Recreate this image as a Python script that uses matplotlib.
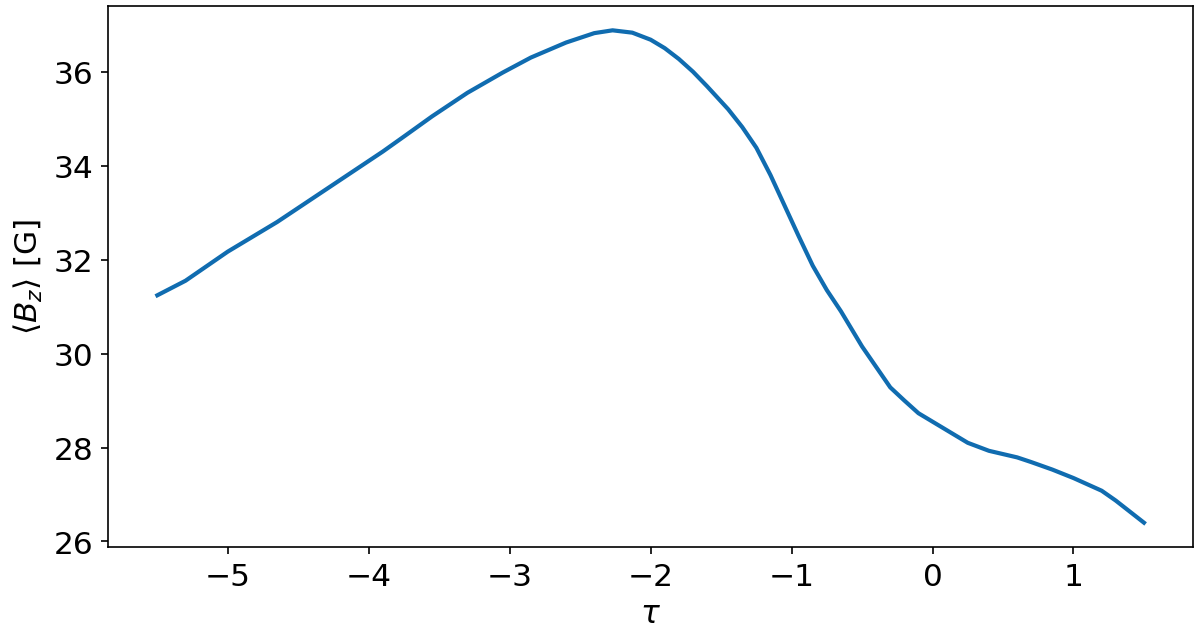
import matplotlib
matplotlib.use("Agg")
import matplotlib.pyplot as plt

# curve
tau = [-5.5, -5.3, -5.0, -4.65, -4.35, -4.2, -4.05, -3.9, -3.75, -3.55, -3.3, -3.05,
       -2.85, -2.6, -2.4, -2.27, -2.13, -2.0, -1.9, -1.8, -1.7, -1.6, -1.45, -1.35,
       -1.25, -1.15, -1.05, -0.95, -0.85, -0.75, -0.65, -0.5, -0.3, -0.2, -0.1, 0.0,
       0.25, 0.4, 0.6, 0.7, 0.85, 1.0, 1.2, 1.3, 1.5]
bz = [31.24, 31.55, 32.17, 32.80, 33.40, 33.70, 34.00, 34.30, 34.62, 35.05, 35.55, 35.98,
      36.30, 36.62, 36.82, 36.88, 36.83, 36.68, 36.50, 36.27, 36.00, 35.69, 35.20, 34.82,
      34.38, 33.80, 33.15, 32.50, 31.87, 31.35, 30.90, 30.15, 29.28, 29.00, 28.73, 28.55,
      28.10, 27.93, 27.79, 27.69, 27.53, 27.35, 27.08, 26.87, 26.40]

plt.rcParams['font.size'] = 15

fig = plt.figure(figsize=(8, 632 / 150), dpi=150)
ax = fig.add_axes([108 / 1200, 1 - 548.3 / 632, (1193.3 - 108) / 1200, (548.3 - 6.7) / 632])
ax.plot(tau, bz, color='#106cb0', lw=2)

ax.set_xlabel(r'$\tau$')
ax.set_ylabel(r'$\langle B_z \rangle$ [G]')

fig.savefig('out.png', dpi=150)
